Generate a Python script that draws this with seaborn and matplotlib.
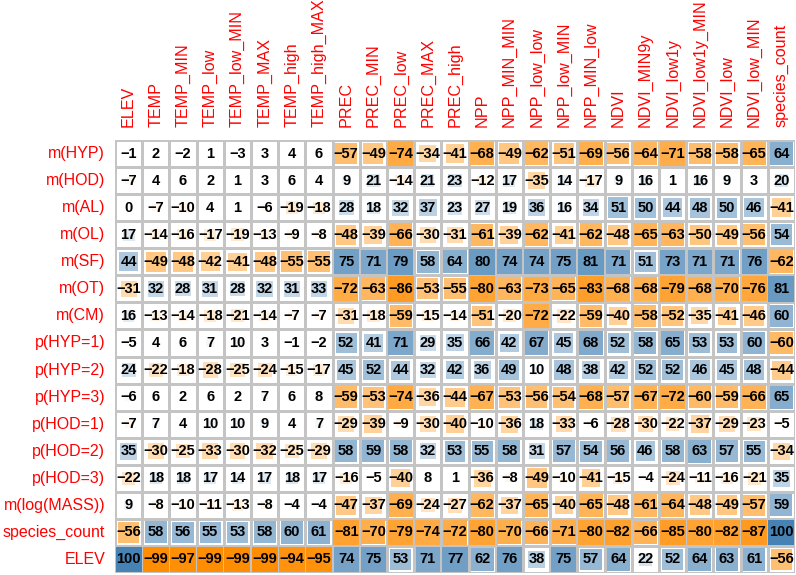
import numpy as np
import pandas as pd
import matplotlib
matplotlib.use("Agg")
import matplotlib.pyplot as plt
from matplotlib.colors import LinearSegmentedColormap, ListedColormap
from matplotlib.patches import Rectangle
import seaborn as sns

# column (x) and row (y) variables
cols = ["ELEV", "TEMP", "TEMP_MIN", "TEMP_low", "TEMP_low_MIN", "TEMP_MAX",
        "TEMP_high", "TEMP_high_MAX", "PREC", "PREC_MIN", "PREC_low", "PREC_MAX",
        "PREC_high", "NPP", "NPP_MIN_MIN", "NPP_low_low", "NPP_low_MIN",
        "NPP_MIN_low", "NDVI", "NDVI_MIN9y", "NDVI_low1y", "NDVI_low1y_MIN",
        "NDVI_low", "NDVI_low_MIN", "species_count"]
rows = ["m(HYP)", "m(HOD)", "m(AL)", "m(OL)", "m(SF)", "m(OT)", "m(CM)",
        "p(HYP=1)", "p(HYP=2)", "p(HYP=3)", "p(HOD=1)", "p(HOD=2)", "p(HOD=3)",
        "m(log(MASS))", "species_count", "ELEV"]

# correlations x100, one list per row
m_hyp = [-1, 2, -2, 1, -3, 3, 4, 6, -57, -49, -74, -34, -41, -68, -49, -62, -51, -69, -56, -64, -71, -58, -58, -65, 64]
m_hod = [-7, 4, 6, 2, 1, 3, 6, 4, 9, 21, -14, 21, 23, -12, 17, -35, 14, -17, 9, 16, 1, 16, 9, 3, 20]
m_al = [0, -7, -10, 4, 1, -6, -19, -18, 28, 18, 32, 37, 23, 27, 19, 36, 16, 34, 51, 50, 44, 48, 50, 46, -41]
m_ol = [17, -14, -16, -17, -19, -13, -9, -8, -48, -39, -66, -30, -31, -61, -39, -62, -41, -62, -48, -65, -63, -50, -49, -56, 54]
m_sf = [44, -49, -48, -42, -41, -48, -55, -55, 75, 71, 79, 58, 64, 80, 74, 74, 75, 81, 71, 51, 73, 71, 71, 76, -62]
m_ot = [-31, 32, 28, 31, 28, 32, 31, 33, -72, -63, -86, -53, -55, -80, -63, -73, -65, -83, -68, -68, -79, -68, -70, -76, 81]
m_cm = [16, -13, -14, -18, -21, -14, -7, -7, -31, -18, -59, -15, -14, -51, -20, -72, -22, -59, -40, -58, -52, -35, -41, -46, 60]
p_hyp1 = [-5, 4, 6, 7, 10, 3, -1, -2, 52, 41, 71, 29, 35, 66, 42, 67, 45, 68, 52, 58, 65, 53, 53, 60, -60]
p_hyp2 = [24, -22, -18, -28, -25, -24, -15, -17, 45, 52, 44, 32, 42, 36, 49, 10, 48, 38, 42, 52, 52, 46, 45, 48, -44]
p_hyp3 = [-6, 6, 2, 6, 2, 7, 6, 8, -59, -53, -74, -36, -44, -67, -53, -56, -54, -68, -57, -67, -72, -60, -59, -66, 65]
p_hod1 = [-7, 7, 4, 10, 10, 9, 4, 7, -29, -39, -9, -30, -40, -10, -36, 18, -33, -6, -28, -30, -22, -37, -29, -23, -5]
p_hod2 = [35, -30, -25, -33, -30, -32, -25, -29, 58, 59, 58, 32, 53, 55, 58, 31, 57, 54, 56, 46, 58, 63, 57, 55, -34]
p_hod3 = [-22, 18, 18, 17, 14, 17, 18, 17, -16, -5, -40, 8, 1, -36, -8, -49, -10, -41, -15, -4, -24, -11, -16, -21, 35]
m_mass = [9, -8, -10, -11, -13, -8, -4, -4, -47, -37, -69, -24, -27, -62, -37, -65, -40, -65, -48, -61, -64, -48, -49, -57, 59]
sp_count = [-56, 58, 56, 55, 53, 58, 60, 61, -81, -70, -79, -74, -72, -80, -70, -66, -71, -80, -82, -66, -85, -80, -82, -87, 100]
elev = [100, -99, -97, -99, -99, -99, -94, -95, 74, 75, 53, 71, 77, 62, 76, 38, 75, 57, 64, 22, 52, 64, 63, 61, -56]

corr = pd.DataFrame([m_hyp, m_hod, m_al, m_ol, m_sf, m_ot, m_cm, p_hyp1, p_hyp2,
                     p_hyp3, p_hod1, p_hod2, p_hod3, m_mass, sp_count, elev],
                    index=rows, columns=cols)

plt.rcParams['font.family'] = ['Liberation Sans', 'DejaVu Sans']
cmap = LinearSegmentedColormap.from_list("ob", ["darkorange", "white", "steelblue"])

labels = corr.map(lambda v: f"{v}".replace("-", "\u2212"))

fig = plt.figure(figsize=(7.96, 5.75), dpi=100)
ax = fig.add_axes([115 / 796, 2 / 575, 680 / 796, 433 / 575])

# white grid with number annotations
sns.heatmap(corr, ax=ax, cmap=ListedColormap(["white"]), cbar=False,
            linewidths=1, linecolor="#c4c4c4", annot=labels, fmt="",
            annot_kws={"fontsize": 10.5, "fontweight": "bold", "color": "black"})

# coloured squares, side grows with sqrt(|r|)
for i, r in enumerate(rows):
    for j, c in enumerate(cols):
        v = corr.loc[r, c] / 100
        side = min(np.sqrt(abs(v)) * 1.06, 0.95)
        if side <= 0:
            continue
        ax.add_patch(Rectangle((j + (1 - side) / 2, i + (1 - side) / 2), side, side,
                               facecolor=cmap((v + 1) / 2), edgecolor="none", zorder=1.5))

ax.xaxis.tick_top()
ax.set_xticklabels(cols, rotation=90, color="red", fontsize=11.6)
ax.set_yticklabels(rows, rotation=0, color="red", fontsize=11.5)
ax.tick_params(axis="x", length=0, pad=9)
ax.tick_params(axis="y", length=0, pad=7)
ax.set_xlabel("")
ax.set_ylabel("")

fig.savefig("out.png", dpi=100)
